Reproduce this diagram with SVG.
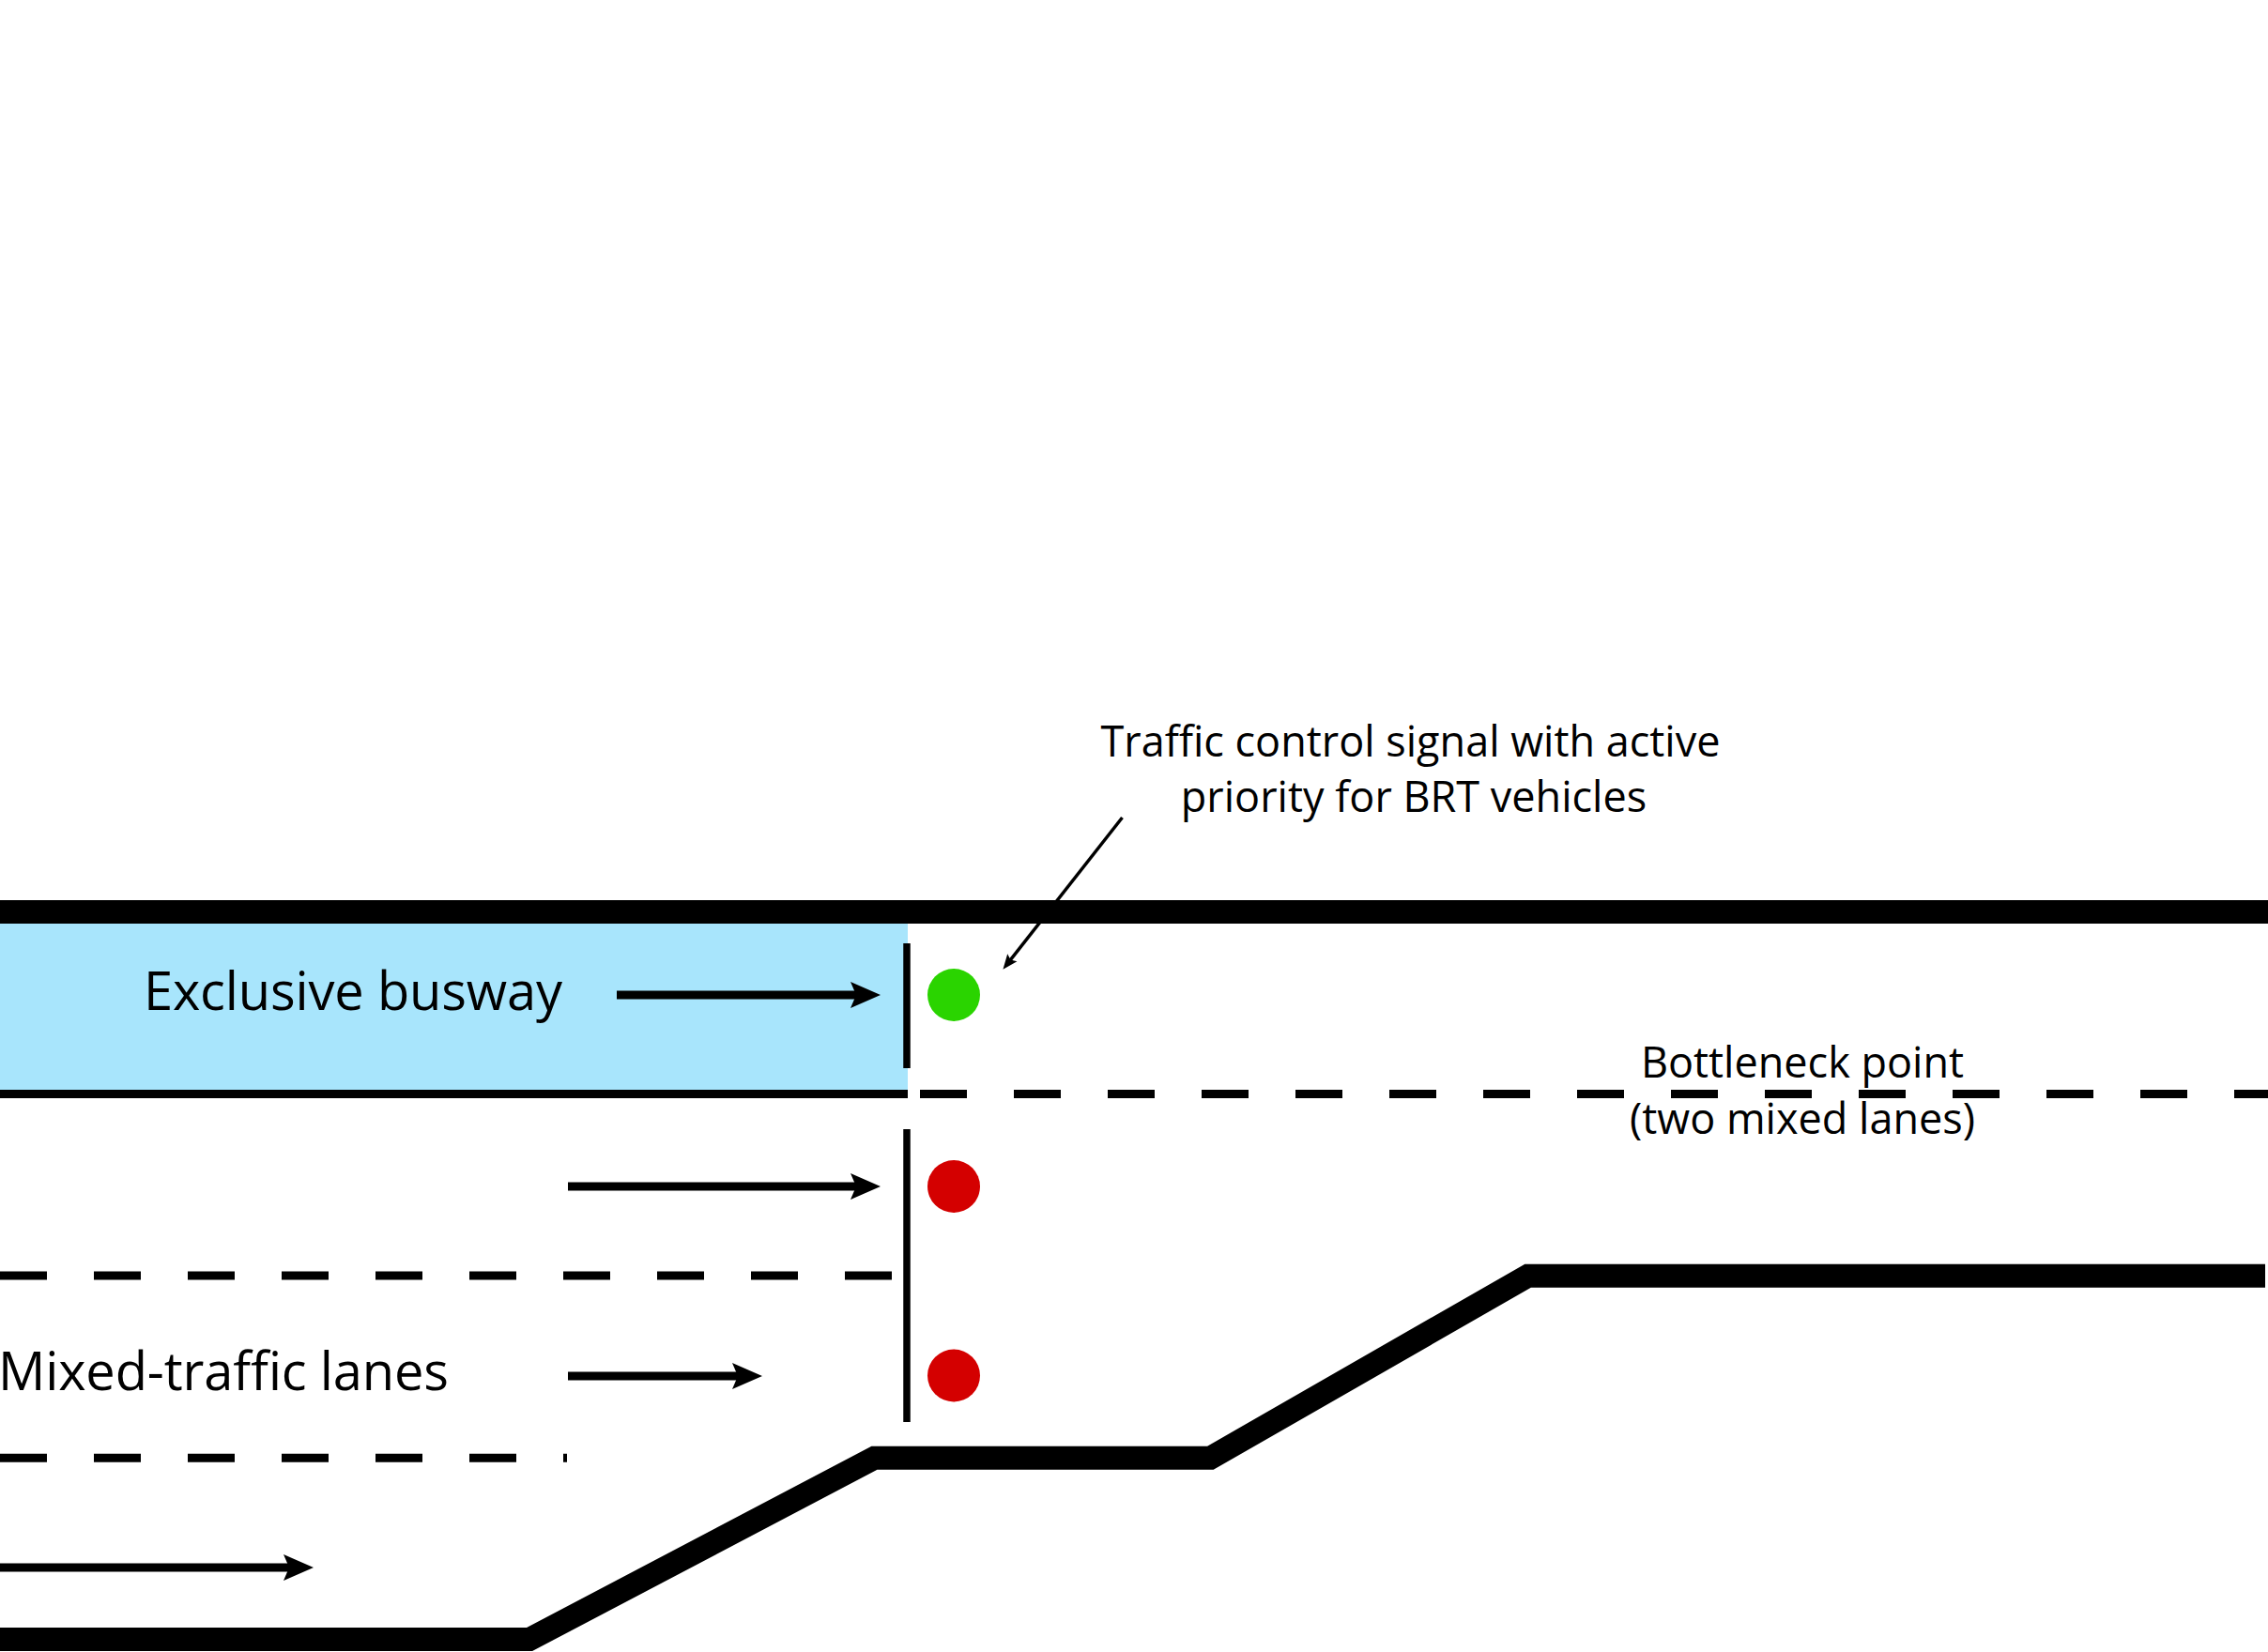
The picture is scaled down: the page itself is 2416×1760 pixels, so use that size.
<svg xmlns="http://www.w3.org/2000/svg" width="2416" height="1760" viewBox="0 0 2416 1760">
  <style>
    .edge { fill: none; stroke: #000; stroke-width: 25; stroke-linejoin: miter; stroke-miterlimit: 10; }
    .lane { fill: none; stroke: #000; stroke-width: 9; }
    .dash { fill: none; stroke: #000; stroke-width: 9; stroke-dasharray: 50 50; }
    .stop { fill: none; stroke: #000; stroke-width: 7.5; }
    .flow { fill: none; stroke: #000; stroke-width: 9; marker-end: url(#bigArrow); }
    .leader { fill: none; stroke: #000; stroke-width: 3.5; marker-end: url(#smallArrow); }
    .big { font-family: "Open Sans", "Liberation Sans", sans-serif; font-size: 56px; fill: #000; }
    .small { font-family: "Open Sans", "Liberation Sans", sans-serif; font-size: 45px; fill: #000; text-anchor: middle; }
  </style>
  <defs>
    <marker id="bigArrow" markerUnits="userSpaceOnUse" viewBox="0 -15 34 30" markerWidth="34" markerHeight="30" refX="12" refY="0" orient="auto">
      <path d="M0,-14 L32,0 L0,14 L6,0 Z" fill="#000"/>
    </marker>
    <marker id="smallArrow" markerUnits="userSpaceOnUse" viewBox="0 -8 18 16" markerWidth="18" markerHeight="16" refX="7" refY="0" orient="auto">
      <path d="M0,-6.5 L16,0 L0,6.5 L3,0 Z" fill="#000"/>
    </marker>
  </defs>
  <rect width="2416" height="1760" fill="#fff"/>

  <g id="busway">
    <rect x="0" y="980" width="967" height="184" fill="#a8e5fc"/>
  </g>

  <g id="road-edges">
    <line class="edge" x1="0" y1="971.5" x2="2416" y2="971.5"/>
    <polyline class="edge" points="0,1746.5 564,1746.5 931.5,1553.3 1289.3,1553.3 1627.7,1359.2 2413,1359.2"/>
  </g>

  <g id="lane-markings">
    <line class="lane" x1="0" y1="1165.5" x2="967" y2="1165.5"/>
    <line class="dash" x1="980" y1="1165.5" x2="2416" y2="1165.5"/>
    <line class="dash" x1="0" y1="1359" x2="950" y2="1359"/>
    <line class="dash" x1="0" y1="1553.3" x2="604" y2="1553.3"/>
  </g>

  <g id="stop-lines">
    <line class="stop" x1="966" y1="1005" x2="966" y2="1138"/>
    <line class="stop" x1="966" y1="1203" x2="966" y2="1515"/>
  </g>

  <g id="signal-bus">
    <circle cx="1016" cy="1060" r="28" fill="#2ad400"/>
  </g>
  <g id="signal-mixed-1">
    <circle cx="1016" cy="1264" r="28" fill="#d40000"/>
  </g>
  <g id="signal-mixed-2">
    <circle cx="1016" cy="1465.5" r="28" fill="#d40000"/>
  </g>

  <g id="connectors">
    <line class="flow" x1="657" y1="1060" x2="918" y2="1060"/>
    <line class="flow" x1="605" y1="1264" x2="918" y2="1264"/>
    <line class="flow" x1="605" y1="1466" x2="792" y2="1466"/>
    <line class="flow" x1="0" y1="1670" x2="314" y2="1670"/>
    <line class="leader" x1="1195.5" y1="871" x2="1074" y2="1025.7"/>
  </g>

  <g id="label-busway">
    <text class="big" x="153" y="1076" textLength="446">Exclusive busway</text>
  </g>
  <g id="label-mixed">
    <text class="big" x="-2" y="1481" textLength="480">Mixed-traffic lanes</text>
  </g>
  <g id="label-signal">
    <text class="small" x="1502.5" y="806">Traffic control signal with active</text>
    <text class="small" x="1506" y="865">priority for BRT vehicles</text>
  </g>
  <g id="label-bottleneck">
    <text class="small" x="1920" y="1148">Bottleneck point</text>
    <text class="small" x="1920" y="1208">(two mixed lanes)</text>
  </g>
</svg>
